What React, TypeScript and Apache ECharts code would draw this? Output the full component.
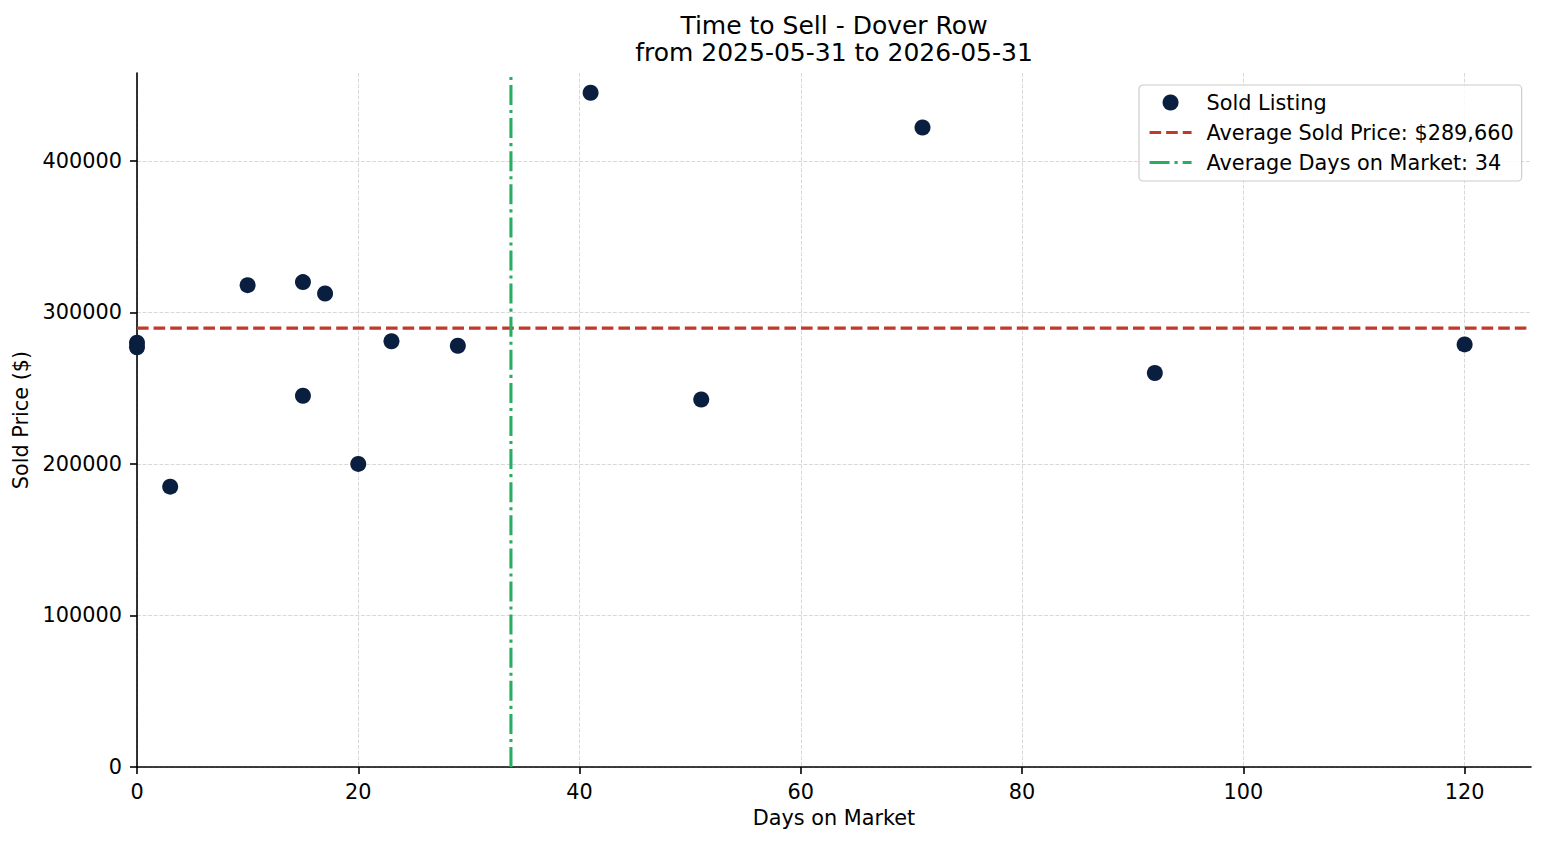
import React, { useEffect, useRef } from "react";
import * as echarts from "echarts";

// Sold listings: days on market vs. sold price
const days: number[] = [0, 0, 3, 10, 15, 17, 15, 20, 23, 29, 41, 51, 71, 92, 120];
const prices: number[] = [
  280000, 277000, 185000, 318000, 320000, 312500, 245000, 200000, 281000,
  278000, 445000, 242500, 422000, 260000, 278900,
];

const xTicks: number[] = [0, 20, 40, 60, 80, 100, 120];
const yTicks: number[] = [0, 100000, 200000, 300000, 400000];

const X_MAX = 126;
const Y_MAX = 458000;

const FONT = "DejaVu Sans";
const FS = 20.8;

export default function App() {
  const ref = useRef<HTMLDivElement>(null);

  useEffect(() => {
    if (!ref.current) return;
    const chart = echarts.init(ref.current, null, { renderer: "svg" });

    const avgPrice = prices.reduce((a, b) => a + b, 0) / prices.length;
    const avgDays = days.reduce((a, b) => a + b, 0) / days.length;

    const priceName = `Average Sold Price: $${Math.round(avgPrice).toLocaleString("en-US")}`;
    const daysName = `Average Days on Market: ${Math.round(avgDays)}`;

    const gridColor = "#d4d4d4";
    const xGridColors = xTicks.map(() => gridColor).concat(["rgba(0,0,0,0)"]);
    const yGridColors = yTicks.map(() => gridColor).concat(["rgba(0,0,0,0)"]);

    chart.setOption({
      animation: false,
      backgroundColor: "#ffffff",
      textStyle: { fontFamily: FONT },
      title: {
        text: "Time to Sell - Dover Row\nfrom 2025-05-31 to 2026-05-31",
        left: 834,
        top: 12,
        padding: 0,
        textAlign: "center",
        textStyle: {
          fontFamily: FONT,
          fontSize: 25,
          fontWeight: "normal",
          color: "#000",
          lineHeight: 27,
        },
      },
      grid: { left: 137, right: 16, top: 73, bottom: 78, containLabel: false },
      legend: {
        orient: "vertical",
        left: 1139,
        top: 85,
        padding: [7, 8, 8, 9],
        itemGap: 9,
        itemWidth: 42,
        itemHeight: 16,
        borderColor: "#cccccc",
        borderWidth: 1.2,
        borderRadius: 4,
        backgroundColor: "rgba(255,255,255,0.85)",
        lineStyle: { width: 3.1 },
        textStyle: {
          fontFamily: FONT,
          fontSize: FS,
          lineHeight: 20,
          color: "#000",
          padding: [0, 0, 0, 10],
        },
        data: ["Sold Listing", priceName, daysName],
      },
      xAxis: {
        type: "value",
        min: 0,
        max: X_MAX,
        interval: 20,
        name: "Days on Market",
        nameLocation: "middle",
        nameGap: 40,
        nameTextStyle: { fontFamily: FONT, fontSize: FS, color: "#000" },
        axisLine: { show: true, lineStyle: { color: "#000", width: 1.6 } },
        axisTick: {
          show: true,
          length: 7,
          customValues: xTicks,
          lineStyle: { color: "#000", width: 1.6 },
        },
        axisLabel: {
          customValues: xTicks,
          margin: 14,
          fontFamily: FONT,
          fontSize: FS,
          color: "#000",
          formatter: (v: number) => String(v),
        },
        splitLine: {
          show: true,
          lineStyle: { color: xGridColors, width: 0.9, type: [3.9, 1.7] },
        },
      },
      yAxis: {
        type: "value",
        min: 0,
        max: Y_MAX,
        interval: 100000,
        name: "Sold Price ($)",
        nameLocation: "middle",
        nameGap: 105,
        nameTextStyle: { fontFamily: FONT, fontSize: FS, color: "#000" },
        axisLine: { show: true, lineStyle: { color: "#000", width: 1.6 } },
        axisTick: {
          show: true,
          length: 7,
          customValues: yTicks,
          lineStyle: { color: "#000", width: 1.6 },
        },
        axisLabel: {
          customValues: yTicks,
          margin: 15,
          fontFamily: FONT,
          fontSize: FS,
          color: "#000",
          formatter: (v: number) => String(v),
        },
        splitLine: {
          show: true,
          lineStyle: { color: yGridColors, width: 0.9, type: [3.9, 1.7] },
        },
      },
      series: [
        {
          name: "Sold Listing",
          type: "scatter",
          symbol: "circle",
          symbolSize: 16,
          itemStyle: { color: "#0a1f3f", opacity: 1 },
          data: days.map((d, i) => [d, prices[i]]),
          z: 3,
        },
        {
          name: priceName,
          type: "line",
          symbol: "none",
          lineStyle: { color: "#c0392b", width: 3.1, type: [11.6, 5] },
          itemStyle: { color: "#c0392b", opacity: 0 },
          data: [
            [0, avgPrice],
            [X_MAX, avgPrice],
          ],
          z: 2,
        },
        {
          name: daysName,
          type: "line",
          symbol: "none",
          lineStyle: { color: "#27ae60", width: 3.1, type: [20, 5, 3.1, 5] },
          itemStyle: { color: "#27ae60", opacity: 0 },
          data: [
            [avgDays, 0],
            [avgDays, Y_MAX],
          ],
          z: 2,
        },
      ],
    });

    return () => chart.dispose();
  }, []);

  return (
    <div
      ref={ref}
      style={{ position: "absolute", left: 0, top: 0, width: 1547, height: 845 }}
    />
  );
}
